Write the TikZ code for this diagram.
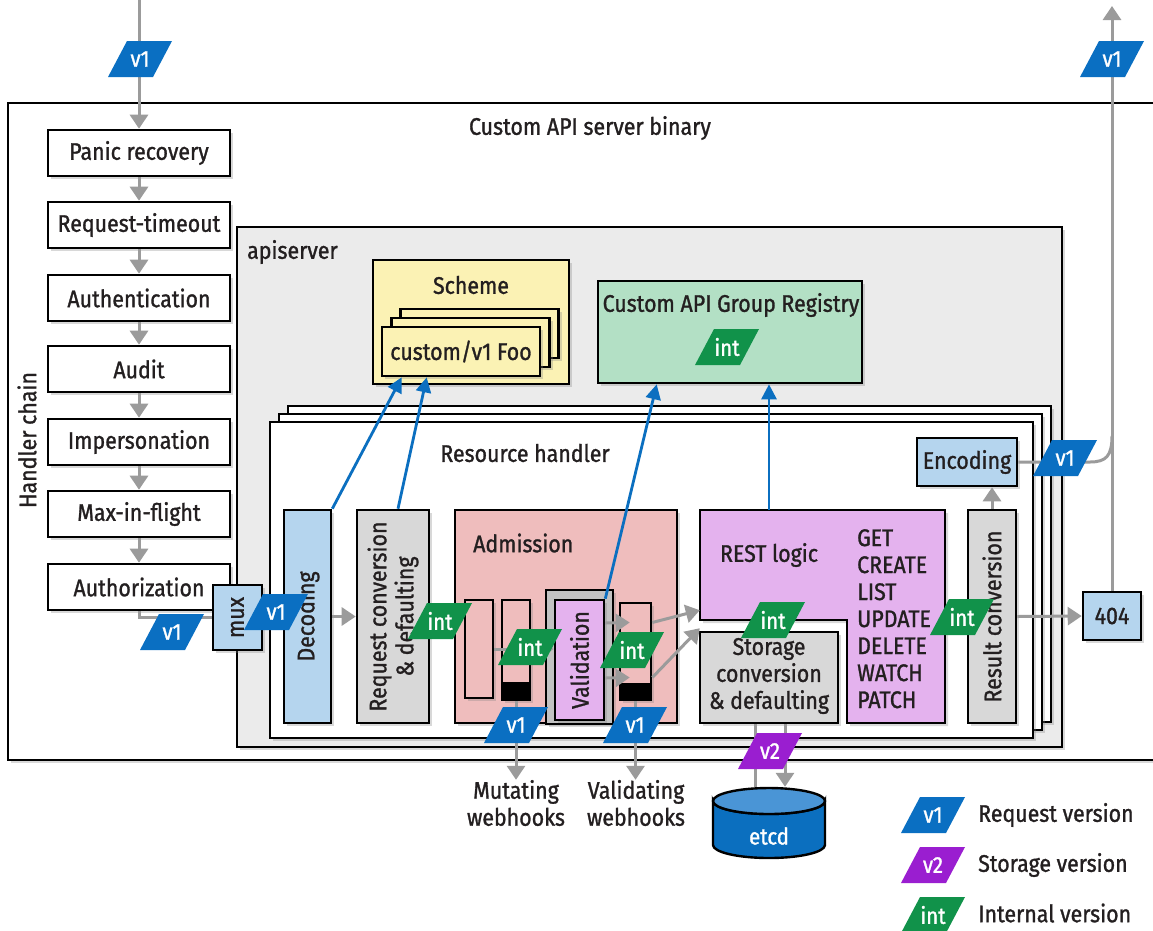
\documentclass[tikz,border=0pt]{standalone}
\usepackage{fontspec}
\setmainfont{Fira Sans}[FakeStretch=0.89,FakeBold=1.2]
\usetikzlibrary{arrows.meta,shadows,calc}
\definecolor{txt}{HTML}{231F20}
\definecolor{grayln}{HTML}{9B9B9B}
\definecolor{apig}{HTML}{EBEBEB}
\definecolor{yel}{HTML}{FBF2B4}
\definecolor{grn}{HTML}{B3E0C5}
\definecolor{bluel}{HTML}{B5D5EE}
\definecolor{grayb}{HTML}{D8D8D8}
\definecolor{pinkb}{HTML}{EFBDBD}
\definecolor{purp}{HTML}{E4B2EE}
\definecolor{framec}{HTML}{C2C2C2}
\definecolor{etcdd}{HTML}{0B6FBF}
\definecolor{etcdl}{HTML}{4A95D6}
\definecolor{bluet}{HTML}{0A6FC2}
\definecolor{greent}{HTML}{11924A}
\definecolor{purpt}{HTML}{9A1ED0}
\definecolor{bluea}{HTML}{0B6FC0}
\newcommand{\vtag}[5]{%
  \fill[#4] (#2-32,#3+18) -- (#2+13,#3+18) -- (#2+32,#3-18) -- (#2-13,#3-18) -- cycle;
  \node[tagtext] (#1) at (#2,#3) {#5};
}
\begin{document}
\begin{tikzpicture}[x=1pt,y=-1pt,
  lbl/.style={text=txt, font=\fontsize{24}{27}\selectfont, inner sep=0pt},
  box/.style={draw=black, line width=2.6pt, inner sep=0pt,
    drop shadow={shadow xshift=3pt,shadow yshift=-3pt,opacity=.3}},
  hbox/.style={box, fill=white, minimum width=182pt, minimum height=46pt, lbl},
  tagtext/.style={text=white, font=\fontsize{23}{26}\selectfont, inner sep=0pt},
  gl/.style={draw=grayln, line width=3pt},
  ga/.style={gl, -{Triangle[width=18pt,length=14pt]}},
  ba/.style={draw=bluea, line width=2.8pt, -{Triangle[width=15pt,length=15pt]}},
  rlbl/.style={lbl, rotate=90, align=center}
]
\useasboundingbox (0,0) rectangle (1153,930);
\clip (0,0) rectangle (1153,930);

% outer binary
\node[box, fill=white, minimum width=1162pt, minimum height=657pt] (binary) at (589,431.5) {};
\node[lbl] (binlbl) at (590,128) {Custom API server binary};
\node[lbl, rotate=90] (hc) at (27,440) {Handler chain};

% handler chain
\node[hbox] (panic) at (139,153) {Panic recovery};
\node[hbox] (timeout) at (139,225) {Request-timeout};
\node[hbox] (authn) at (139,298) {Authentication};
\node[hbox] (audit) at (139,369) {Audit};
\node[hbox] (imp) at (139,442) {Impersonation};
\node[hbox] (maxf) at (139,514) {Max-in-flight};
\node[hbox] (authz) at (139,587) {Authorization};

% apiserver
\node[box, fill=apig, minimum width=825pt, minimum height=520pt] (apis) at (649.5,487) {};
\node[lbl, anchor=west] (apislbl) at (247,252) {apiserver};

% scheme
\node[box, fill=yel, minimum width=196pt, minimum height=124pt] (scheme) at (471,322) {};
\node[lbl] (schemelbl) at (471,285) {Scheme};
\node[box, fill=yel, minimum width=158pt, minimum height=49pt] (foo3) at (479.5,333.5) {};
\node[box, fill=yel, minimum width=158pt, minimum height=49pt] (foo2) at (470.5,342.5) {};
\node[box, fill=yel, minimum width=158pt, minimum height=49pt, lbl] (foo) at (461,351.5) {custom/v1 Foo};

% registry
\node[box, fill=grn, minimum width=264pt, minimum height=102pt] (reg) at (730,332) {};
\node[lbl] (reglbl) at (731,305) {Custom API Group Registry};

% resource handler stack
\node[box, fill=white, minimum width=763pt, minimum height=316pt] (rh3) at (669.5,564) {};
\node[box, fill=white, minimum width=763pt, minimum height=316pt] (rh2) at (660.5,572) {};
\node[box, fill=white, minimum width=763pt, minimum height=316pt] (rh) at (651.5,580) {};
\node[lbl] (rhlbl) at (525,453) {Resource handler};

% components
\node[box, fill=bluel, minimum width=47pt, minimum height=213pt] (dec) at (307.5,616.5) {};
\node[rlbl] (declbl) at (dec) {Decoding};
\node[box, fill=grayb, minimum width=72pt, minimum height=213pt] (reqc) at (393,616.5) {};
\node[rlbl] (reqclbl) at (reqc) {Request conversion\\\& defaulting};
\node[box, fill=pinkb, minimum width=222pt, minimum height=213pt] (adm) at (566,616.5) {};
\node[lbl, anchor=west] (admlbl) at (473,543) {Admission};
\node[box, fill=pinkb, minimum width=28pt, minimum height=98pt] (bar1) at (479,649) {};
\node[box, fill=pinkb, minimum width=28pt, minimum height=100pt] (bar2) at (516,650) {};
\fill[black] (502,682) rectangle (530,700);
\node[box, fill=framec, minimum width=67pt, minimum height=134pt] (valframe) at (579.5,657) {};
\node[box, fill=purp, minimum width=49pt, minimum height=120pt] (val) at (579.5,660) {};
\node[rlbl] (vallbl) at (val) {Validation};
\node[box, fill=pinkb, minimum width=31pt, minimum height=97pt] (bar3) at (635.5,651.5) {};
\fill[black] (620,683) rectangle (651,700);

\draw[line width=2.6pt, fill=purp, drop shadow={shadow xshift=3pt,shadow yshift=-3pt,opacity=.3}]
  (700,510) -- (945,510) -- (945,723) -- (847,723) -- (847,620) -- (700,620) -- cycle;
\node[minimum width=245pt, minimum height=110pt, inner sep=0pt] (rest) at (822.5,565) {};
\node[lbl] (restlbl) at (769,555) {REST logic};
\node[lbl, align=left, anchor=north west, font=\fontsize{24}{27}\selectfont] (methods) at (857,529) {GET\\CREATE\\LIST\\UPDATE\\DELETE\\WATCH\\PATCH};
\node[box, fill=grayb, minimum width=138pt, minimum height=91pt] (stor) at (769,677.5) {};
\node[lbl, align=center] (storlbl) at (769,676) {Storage\\conversion\\\& defaulting};
\node[box, fill=grayb, minimum width=48pt, minimum height=213pt] (res) at (992,616.5) {};
\node[rlbl] (reslbl) at (res) {Result conversion};
\node[box, fill=bluel, minimum width=100pt, minimum height=48pt, lbl] (enc) at (967,462) {Encoding};
\node[box, fill=bluel, minimum width=58pt, minimum height=48pt, lbl] (r404) at (1112,616) {404};

% etcd
\draw[line width=2.4pt, fill=etcdd] (713,801) -- (713,845) arc[start angle=180, end angle=0, x radius=56, y radius=13]
  -- (825,801) arc[start angle=0, end angle=180, x radius=56, y radius=13] -- cycle;
\draw[line width=2.4pt, fill=etcdl] (769,801) ellipse[x radius=56, y radius=13];
\node[minimum width=112pt, minimum height=70pt, inner sep=0pt] (etcd) at (769,822) {};
\node[tagtext] (etcdlbl) at (769,836) {etcd};

% webhooks
\node[lbl, align=center] (mut) at (516,803) {Mutating\\webhooks};
\node[lbl, align=center] (valw) at (636,803) {Validating\\webhooks};

% coordinates
\coordinate (chaintop) at (139,0);
\coordinate (outtop) at (1112,6);
\coordinate (join) at (1112,436);
\coordinate (bend) at (1090,462);
\coordinate (restup) at (769,510);

% gray connectors
\draw[ga] (chaintop) -- (panic.north);
\draw[ga] (panic.south) -- (timeout.north);
\draw[ga] (timeout.south) -- (authn.north);
\draw[ga] (authn.south) -- (audit.north);
\draw[ga] (audit.south) -- (imp.north);
\draw[ga] (imp.south) -- (maxf.north);
\draw[ga] (maxf.south) -- (authz.north);
\node[box, fill=bluel, minimum width=49pt, minimum height=65pt] (mux) at (237.5,617.5) {};
\draw[gl] (authz.south) |- (mux.west);
\node[rlbl] (muxlbl) at (mux) {mux};
\draw[ga] (mux.east) -- (mux.east -| dec.west);
\draw[ga] (dec.east) -- (reqc.west);
\draw[ga] (reqc.east) -- (adm.west);
\draw[ga] (bar1.east) -- (bar1.east -| val.west);
\draw[ga] ($(val.east)+(0,-37)$) -- ($(bar3.west)+(11,-29)$);
\draw[ga] ($(val.east)+(0,18)$) -- ($(bar3.west)+(11,26)$);
\draw[ga] ($(bar3.east)+(0,-29)$) -- ($(rest.south west)+(0,-10)$);
\draw[ga] ($(bar3.east)+(0,26)$) -- ($(rest.south west)+(0,8)$);
\draw[ga] (res.west -| rest.east) -- (res.west);
\draw[ga] (res.north) -- (res.north |- enc.south);
\draw[ga] (res.east) -- (r404.west);
\draw[gl] (enc.east) -- (bend) .. controls (1106,462) and (1112,456) .. (join);
\draw[ga] (r404.north) -- (outtop);
\draw[gl] ($(etcd.north)+(-14,0)$) -- ($(stor.south)+(-14,0)$);
\draw[ga] ($(stor.south)+(16,0)$) -- ($(etcd.north)+(16,0)$);
\draw[ga] (bar2.south) -- (mut.north);
\draw[ga] (bar3.south) -- (bar3.south |- valw.north);

% blue connectors
\draw[ba] (dec.north east) -- ($(foo.south west)+(21,0)$);
\draw[ba] ($(reqc.north)+(5,0)$) -- ($(foo.south west)+(46,0)$);
\draw[ba] (val.north east) -- ($(reg.south west)+(60,0)$);
\draw[ba] (restup) -- (restup |- reg.south);

% version tags
\vtag{t0}{140}{59}{bluet}{v1}
\vtag{t1}{172}{632}{bluet}{v1}
\vtag{t2}{276}{612}{bluet}{v1}
\vtag{t3}{440}{621}{greent}{int}
\vtag{t4}{530}{647}{greent}{int}
\vtag{t5}{632}{650}{greent}{int}
\vtag{t6}{516}{725}{bluet}{v1}
\vtag{t7}{635}{725}{bluet}{v1}
\vtag{t8}{773}{620}{greent}{int}
\vtag{t9}{962}{617}{greent}{int}
\vtag{t10}{770}{751}{purpt}{v2}
\vtag{t11}{1065}{458}{bluet}{v1}
\vtag{t12}{1112}{59}{bluet}{v1}
\vtag{t13}{727}{347}{greent}{int}

% legend
\vtag{lgv1}{933}{815}{bluet}{v1}
\vtag{lgv2}{933}{865}{purpt}{v2}
\vtag{lgint}{933}{915}{greent}{int}
\node[lbl, anchor=west] (lg1) at (978,815) {Request version};
\node[lbl, anchor=west] (lg2) at (978,865) {Storage version};
\node[lbl, anchor=west] (lg3) at (978,913) {Internal version};
\end{tikzpicture}
\end{document}
